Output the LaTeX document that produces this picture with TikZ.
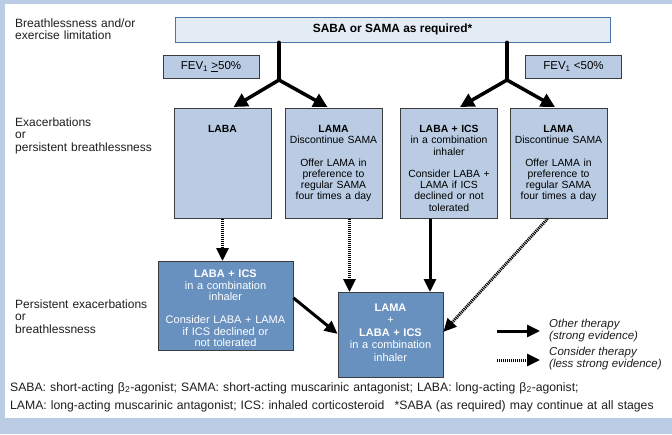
\documentclass[tikz,border=0pt]{standalone}
\usepackage{fontspec}
\setmainfont{Liberation Sans}
\usetikzlibrary{arrows.meta, positioning, calc}
\definecolor{frameblue}{RGB}{187,205,228}
\definecolor{topfill}{RGB}{227,235,245}
\definecolor{topedge}{RGB}{72,118,168}
\definecolor{lightfill}{RGB}{185,204,228}
\definecolor{darkfill}{RGB}{104,145,191}
\definecolor{boxedge}{RGB}{60,60,60}
\definecolor{labelgray}{RGB}{30,30,30}

\begin{document}
\begin{tikzpicture}[x=1pt, y=-1pt,
    stagelabel/.style={anchor=base west, align=left, text width=200pt, inner sep=0pt, text=labelgray, font=\fontsize{12}{12.7}\selectfont},
    fevbox/.style={draw=boxedge, fill=lightfill, line width=0.8pt, minimum width=96pt, minimum height=23pt, inner sep=0pt, font=\fontsize{11.5}{12}\selectfont},
    lightbox/.style={draw=boxedge, fill=lightfill, line width=0.8pt, anchor=north, minimum width=97pt, text width=95pt, inner xsep=1pt, inner ysep=0pt, align=center, text height=24pt, text depth=86pt, font=\fontsize{10.4}{11.3}\selectfont},
    darkbox/.style={draw=boxedge, fill=darkfill, line width=0.8pt, anchor=north, align=center, inner xsep=2pt, inner ysep=0pt, text=white, font=\fontsize{11}{11.7}\selectfont},
    stem/.style={line width=3.5pt, line cap=round},
    branch/.style={line width=3.5pt, line cap=round, -{Triangle[length=14pt,width=14pt]}},
    strong/.style={line width=3pt, -{Triangle[length=13pt,width=12pt]}},
    weak/.style={line width=3pt, dash pattern=on 1.1pt off 0.9pt, -{Triangle[length=13pt,width=12pt]}},
    legendtext/.style={anchor=west, align=left, inner sep=0pt, text=labelgray, font=\fontsize{11.5}{12}\selectfont\itshape}
]

% frame
\fill[frameblue] (0,0) rectangle (672,434);
\fill[white] (5,4) rectangle (672,418);

% stage labels
\node[stagelabel] (lblstart) at (15,27) {Breathlessness and/or\\exercise limitation};
\node[stagelabel] (lblexac) at (15,126) {Exacerbations\\or\\persistent breathlessness};
\node[stagelabel] (lblpers) at (15,308) {Persistent exacerbations\\or\\breathlessness};

% first line
\node[draw=topedge, fill=topfill, line width=0.8pt, minimum width=435pt, minimum height=25pt, font=\bfseries\fontsize{11.9}{12}\selectfont] (saba) at (392.5,29.5) {SABA or SAMA as required*};

\node[fevbox] (fevhi) at (211,66.5) {FEV\textsubscript{1} \underline{>}50\%};
\node[fevbox] (fevlo) at (573.5,66.5) {FEV\textsubscript{1} <50\%};

% second line
\node[lightbox] (laba) at (222.5,108) {\textbf{LABA}};
\node[lightbox] (lama1) at (333.5,108) {\textbf{LAMA}\\Discontinue SAMA\\[11pt]Offer LAMA in\\preference to\\regular SAMA\\four times a day};
\node[lightbox] (labaics) at (449,108) {\textbf{LABA + ICS}\\in a combination\\inhaler\\[11pt]Consider LABA +\\LAMA if ICS\\declined or not\\tolerated};
\node[lightbox] (lama2) at (558.5,108) {\textbf{LAMA}\\Discontinue SAMA\\[11pt]Offer LAMA in\\preference to\\regular SAMA\\four times a day};

% third line
\node[darkbox, minimum width=135pt, text width=131pt, text height=16pt, text depth=73pt] (labaics2) at (225.5,261) {\textbf{LABA + ICS}\\in a combination\\inhaler\\[11pt]Consider LABA + LAMA\\if ICS declined or\\not tolerated};
\node[darkbox, minimum width=105pt, text width=101pt, text height=19pt, text depth=66pt, font=\fontsize{11}{12.4}\selectfont] (lamalaba) at (390.5,292) {\textbf{LAMA}\\+\\\textbf{LABA + ICS}\\in a combination\\inhaler};

% split by FEV1
\coordinate (jl) at (279,80);
\coordinate (jr) at (507,80);
\draw[stem] (saba.south -| jl) -- (jl);
\draw[stem] (saba.south -| jr) -- (jr);
\draw[branch] (jl) -- ([xshift=11pt,yshift=1pt]laba.north);
\draw[branch] (jl) -- ([xshift=-6pt,yshift=1pt]lama1.north);
\draw[branch] (jr) -- ([xshift=11pt,yshift=1pt]labaics.north);
\draw[branch] (jr) -- ([xshift=-3.5pt,yshift=1pt]lama2.north);

% step up
\draw[weak] (laba.south) -- (laba.south |- labaics2.north);
\draw[weak] ([xshift=16pt]lama1.south) -- ([xshift=16pt]lama1.south |- lamalaba.north);
\draw[strong] ([xshift=-19pt]labaics.south) -- ([xshift=-19pt]labaics.south |- lamalaba.north);
\draw[weak] ([xshift=-11pt]lama2.south) -- ([yshift=3pt]lamalaba.east);
\draw[strong] ([yshift=8pt]labaics2.east) -- ([yshift=1pt]lamalaba.west);

% legend
\coordinate (sa) at (497,331);
\coordinate (sb) at (540,331);
\coordinate (wa) at (497,360);
\coordinate (wb) at (540,360);
\draw[strong] (sa) -- (sb);
\draw[weak] (wa) -- (wb);
\node[legendtext] (strongtxt) at (549,331) {Other therapy\\(strong evidence)};
\node[legendtext] (weaktxt) at (549,359) {Consider therapy\\(less strong evidence)};

% abbreviations
\node[anchor=base west, align=left, text width=660pt, inner sep=0pt, text=labelgray, font=\fontsize{12.2}{18}\selectfont] (foot) at (10,391) {SABA: short-acting β\textsubscript{2}-agonist; SAMA: short-acting muscarinic antagonist; LABA: long-acting β\textsubscript{2}-agonist;\\LAMA: long-acting muscarinic antagonist; ICS: inhaled corticosteroid\hspace{0.5em} *SABA (as required) may continue at all stages};

\end{tikzpicture}
\end{document}
